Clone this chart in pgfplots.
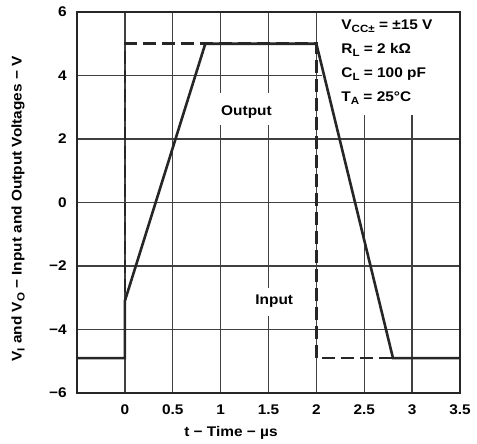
\documentclass[border=0pt]{standalone}
\usepackage{fontspec}
\setmainfont{Liberation Sans}[FakeStretch=1.1]
\usepackage{pgfplots}
\pgfplotsset{compat=1.18}
\newcommand\lbl{\fontsize{14}{16}\selectfont\bfseries}
\newcommand\sub[1]{\raisebox{-0.22em}{\fontsize{10.5}{12}\selectfont #1}}

\begin{document}
\begin{tikzpicture}
\begin{axis}[
  name=ax,
  at={(0,0)}, anchor=south west,
  width=383pt, height=381pt, scale only axis,
  xmin=-0.5, xmax=3.5, ymin=-6, ymax=6,
  xtick={0,0.5,1,1.5,2,2.5,3,3.5},
  xticklabels={0,0.5,1,1.5,2,2.5,3,3.5},
  ytick={-6,-4,-2,0,2,4,6},
  yticklabels={−6,−4,−2,0,2,4,6},
  grid=major,
  grid style={black!75, line width=1.4pt},
  major tick length=0pt,
  tick label style={font=\lbl, inner sep=0pt},
  xticklabel style={yshift=-12pt},
  yticklabel style={xshift=-10pt},
  xlabel={t − Time − µs},
  ylabel={V\sub{I} and V\sub{O} − Input and Output Voltages − V},
  label style={font=\lbl, inner sep=0pt},
  xlabel style={at={(axis description cs:0.402,-0.087)}, anchor=north},
  ylabel style={at={(axis description cs:-0.136,0.483)}, anchor=south},
]

% white patches behind the texts
\fill[white] (axis cs:2.06,2.76) rectangle (axis cs:3.5,6);
\fill[white] (axis cs:0.98,2.44) rectangle (axis cs:1.58,3.45);
\fill[white] (axis cs:1.34,-3.57) rectangle (axis cs:1.78,-2.69);

% input
\addplot[black!85, line width=2.6pt, dash pattern=on 13pt off 6pt] coordinates {
(-0.5,-4.9)(0,-4.9)(0,5)(2,5)(2,-4.9)(3.5,-4.9)
};

% output
\addplot[black!85, line width=2.6pt] coordinates {
(-0.5,-4.9)(0,-4.9)(0,-3.1)(0.84,5)(2,5)(2.8,-4.9)(3.5,-4.9)
};

\node[font=\lbl, inner sep=0pt] at (axis cs:1.27,2.85) {Output};
\node[font=\lbl, inner sep=0pt] at (axis cs:1.56,-3.1) {Input};
\node[font=\fontsize{14}{24}\selectfont\bfseries, inner sep=0pt, anchor=north west, align=left]
  at (axis cs:2.26,5.75)
  {V\sub{CC±} = ±15 V\\R\sub{L} = 2 kΩ\\C\sub{L} = 100 pF\\T\sub{A} = 25°C};
\end{axis}
\draw[black!85, line width=1.6pt] (ax.south west) rectangle (ax.north east);
\path (-77pt,-51pt) rectangle (400pt,393pt);
\end{tikzpicture}
\end{document}
